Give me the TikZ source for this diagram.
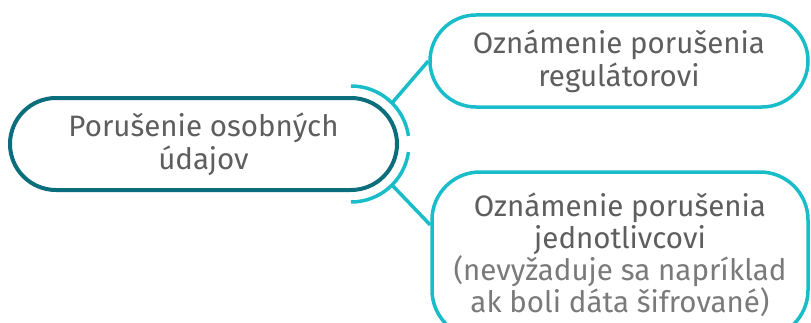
\documentclass[tikz,border=0pt]{standalone}
\usepackage{fontspec}
\setmainfont{Fira Sans}
\usetikzlibrary{calc}
\definecolor{darkteal}{HTML}{0B6E7C}
\definecolor{cyanline}{HTML}{19BDC9}
\definecolor{txtgray}{HTML}{5E5E5E}
\definecolor{lightgray}{HTML}{7A7A7A}

\begin{document}
\begin{tikzpicture}[x=1pt,y=1pt]
\tikzstyle{pill}=[rectangle, rounded corners=46pt, line width=3.5pt, fill=white, align=center, text=txtgray, font=\fontsize{29.5}{33}\selectfont, inner sep=0pt]
\tikzstyle{leaf}=[pill, draw=cyanline]
\tikzstyle{root}=[pill, draw=darkteal, line width=4pt]
\tikzstyle{link}=[cyanline, line width=3.5pt]
\useasboundingbox (0,0) rectangle (811,322);
\draw node[root, minimum width=387pt, minimum height=92pt] (breach) at (203.5,178) {Porušenie osobných\\údajov};
\coordinate (hub) at (351,178);
\draw node[leaf, minimum width=378pt, minimum height=92pt] (regulator) at (619,261) {Oznámenie porušenia\\regulátorovi};
\draw node[leaf, minimum width=376pt, minimum height=166pt, rounded corners=48pt, font=\fontsize{29.5}{32}\selectfont] (person) at (620,67) {Oznámenie porušenia\\jednotlivcovi\\{\color{lightgray}(nevyžaduje sa napríklad}\\{\color{lightgray}ak boli dáta šifrované)}};
\draw[link] (hub) ++(90:58pt) arc (90:8:58pt);
\draw[link] (hub) ++(-8:58pt) arc (-8:-90:58pt);
\draw[link] (hub) ++(45:58pt) -- (regulator.west);
\draw[link] (hub) ++(-45:58pt) -- (person.171);
\end{tikzpicture}
\end{document}
